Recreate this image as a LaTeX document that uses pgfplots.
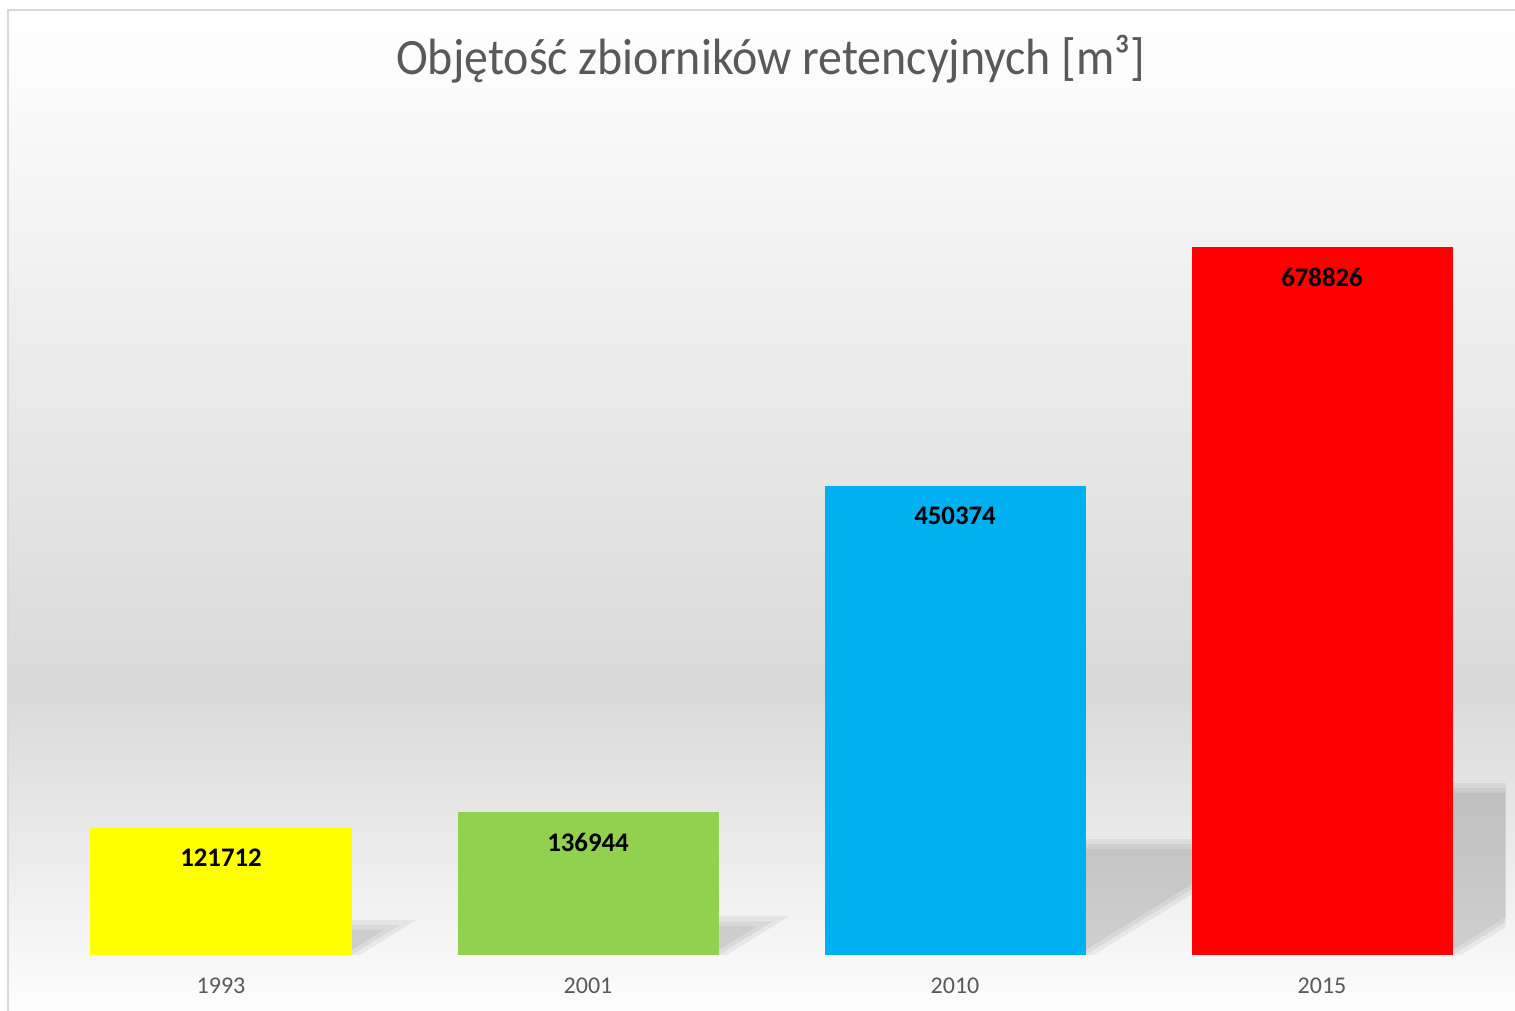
\documentclass[border=0pt]{standalone}
\usepackage{pgfplots}
\pgfplotsset{compat=1.18}
\usepackage{fontspec}
\setmainfont{Carlito}
\definecolor{ttl}{HTML}{595959}
\definecolor{bgmid}{HTML}{D9D9D9}
\definecolor{framec}{HTML}{D9D9D9}
\definecolor{cyell}{HTML}{FFFF00}
\definecolor{cgreen}{HTML}{92D050}
\definecolor{cblue}{HTML}{00B0F0}
\definecolor{cred}{HTML}{FF0000}
\begin{document}
\begin{tikzpicture}
\useasboundingbox (0,0) rectangle (757.5bp,-505.5bp);
\begin{scope}[x=0.5bp,y=-0.5bp]
\clip (0,0) rectangle (1515,1011);
\shade[top color=white, bottom color=bgmid] (8,10) rectangle (1530,690.5);
\shade[top color=bgmid, bottom color=white] (8,690) rectangle (1530,1030);
\draw[framec, line width=1bp] (8,1030) -- (8,10) -- (1530,10);
\node[anchor=base, text=ttl, font=\fontsize{25.5bp}{30bp}\selectfont, inner sep=0pt, xscale=0.94] at (771,74.5) {Objętość zbiorników retencyjnych [m³]};
\end{scope}
\begin{axis}[
  at={(18.75bp,-477.5bp)}, anchor=south west,
  scale only axis, width=734bp, height=417bp,
  xmin=-0.5, xmax=3.5, ymin=0, ymax=800000,
  axis x line*=bottom, axis y line=none,
  x axis line style={draw=none},
  xtick={0,1,2,3}, xticklabels={1993,2001,2010,2015},
  major tick length=0pt, ytick=\empty,
  xticklabel style={text=ttl, font=\fontsize{12bp}{14bp}\selectfont, yshift=-8bp},
  /pgf/number format/assume math mode=true,
  nodes near coords={\pgfmathprintnumber[fixed, precision=0, 1000 sep={}]{\pgfplotspointmeta}},
  every node near coord/.append style={anchor=center, yshift=-15bp, text=black, font=\bfseries\fontsize{13.4bp}{16bp}\selectfont},
  shadow/.style={fill=black, fill opacity=0.055, draw=none, forget plot, nodes near coords={}},
]
% soft shadows (three layers each)
\addplot[shadow] coordinates {(0.3556,0) (0.3556,33519) (0.5312,33519) (0.3776,0) (0.3556,0)};
\addplot[shadow] coordinates {(0.3556,0) (0.3556,28724) (0.4873,28724) (0.3556,0)};
\addplot[shadow] coordinates {(0.3556,4794) (0.3556,23932) (0.4433,23932) (0.3556,4794)};
\addplot[shadow] coordinates {(1.3556,0) (1.3556,37115) (1.5477,37115) (1.3776,0) (1.3556,0)};
\addplot[shadow] coordinates {(1.3556,0) (1.3556,32319) (1.5038,32319) (1.3556,0)};
\addplot[shadow] coordinates {(1.3556,4794) (1.3556,27527) (1.4598,27527) (1.3556,4794)};
\addplot[shadow] coordinates {(2.3556,0) (2.3556,111086) (2.8869,111086) (2.3776,0) (2.3556,0)};
\addplot[shadow] coordinates {(2.3556,0) (2.3556,106288) (2.8430,106288) (2.3556,0)};
\addplot[shadow] coordinates {(2.3556,4794) (2.3556,101499) (2.7989,101499) (2.3556,4794)};
\addplot[shadow] coordinates {(3.3556,0) (3.3556,164999) (4.1340,164999) (3.3776,0) (3.3556,0)};
\addplot[shadow] coordinates {(3.3556,0) (3.3556,160203) (4.0900,160203) (3.3556,0)};
\addplot[shadow] coordinates {(3.3556,4794) (3.3556,155411) (4.0461,155411) (3.3556,4794)};
% bars
\addplot[ybar, bar width=130.5bp, bar shift=0pt, fill=cyell, draw=none] coordinates {(0,121712)};
\addplot[ybar, bar width=130.5bp, bar shift=0pt, fill=cgreen, draw=none] coordinates {(1,136944)};
\addplot[ybar, bar width=130.5bp, bar shift=0pt, fill=cblue, draw=none] coordinates {(2,450374)};
\addplot[ybar, bar width=130.5bp, bar shift=0pt, fill=cred, draw=none] coordinates {(3,678826)};
\end{axis}
\end{tikzpicture}
\end{document}
